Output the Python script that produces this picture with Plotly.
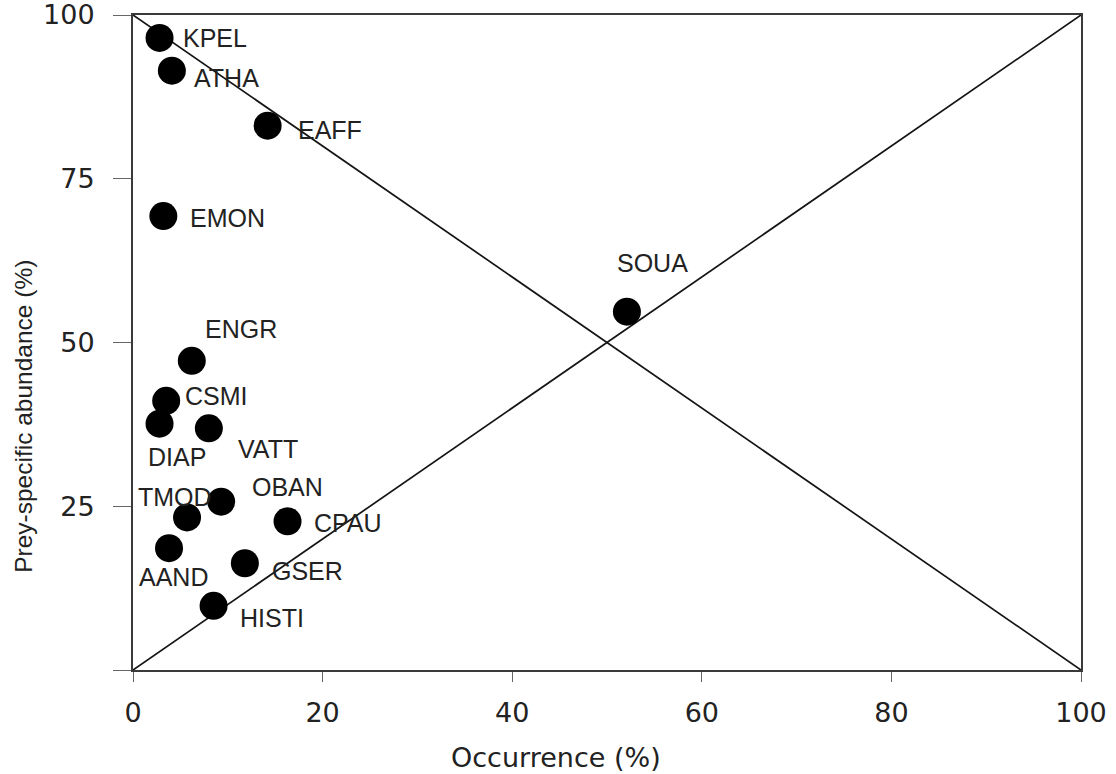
import plotly.graph_objects as go

# Prey taxa codes, frequency of occurrence (%) and prey-specific abundance (%)
taxa = ["KPEL", "ATHA", "EAFF", "EMON", "SOUA", "ENGR", "CSMI", "DIAP",
        "VATT", "OBAN", "TMOD", "CPAU", "AAND", "GSER", "HISTI"]
occurrence = [2.8, 4.1, 14.2, 3.2, 52.1, 6.2, 3.5, 2.8,
              8.0, 9.3, 5.7, 16.3, 3.8, 11.8, 8.5]
abundance = [96.5, 91.5, 83.1, 69.3, 54.7, 47.2, 41.1, 37.6,
             36.9, 25.7, 23.3, 22.7, 18.6, 16.3, 9.8]

x_ticks = [0, 20, 40, 60, 80, 100]
y_ticks = [0, 25, 50, 75, 100]
y_tick_text = ["", "25", "50", "75", "100"]

# Label placement relative to each point: (xshift px, yshift px, xanchor)
label_offsets = {
    "KPEL": (22, 0, "left"), "ATHA": (21, -7, "left"), "EAFF": (29, -4, "left"),
    "EMON": (26, -2, "left"), "SOUA": (26, 49, "center"), "ENGR": (12, 32, "left"),
    "CSMI": (18, 5, "left"), "DIAP": (-13, -33, "left"), "VATT": (28, -21, "left"),
    "OBAN": (30, 15, "left"), "TMOD": (-50, 20, "left"), "CPAU": (25, -2, "left"),
    "AAND": (-31, -29, "left"), "GSER": (26, -8, "left"), "HISTI": (25, -12, "left"),
}

fig = go.Figure()

# Reference diagonals of the Amundsen diagram
fig.add_trace(go.Scatter(x=[0, 100], y=[100, 0], mode="lines",
                         line=dict(color="#141414", width=1.7),
                         hoverinfo="skip", showlegend=False))
fig.add_trace(go.Scatter(x=[0, 100], y=[0, 100], mode="lines",
                         line=dict(color="#141414", width=1.7),
                         hoverinfo="skip", showlegend=False))

fig.add_trace(go.Scatter(x=occurrence, y=abundance, mode="markers",
                         marker=dict(color="black", size=28),
                         text=taxa, showlegend=False, cliponaxis=False))

label_font = dict(family="Liberation Sans, Arial, sans-serif", size=25, color="#222222")
for name, xv, yv in zip(taxa, occurrence, abundance):
    dx, dy, anchor = label_offsets[name]
    fig.add_annotation(x=xv, y=yv, text=name, showarrow=False,
                       xshift=dx, yshift=dy, xanchor=anchor, yanchor="middle",
                       borderpad=0, font=label_font)

# Axis titles
fig.add_annotation(xref="paper", yref="paper", x=0.446, y=-0.133,
                   text="Occurrence (%)", showarrow=False,
                   xanchor="center", yanchor="middle", borderpad=0,
                   font=dict(family="DejaVu Sans, sans-serif", size=27, color="#222222"))
fig.add_annotation(xref="paper", yref="paper", x=-0.115, y=0.388,
                   text="Prey-specific abundance (%)", showarrow=False, textangle=-90,
                   xanchor="center", yanchor="middle",
                   font=dict(family="Liberation Sans, Arial, sans-serif", size=24.5, color="#222222"))

tick_font = dict(family="DejaVu Sans, sans-serif", size=27, color="#222222")
fig.update_layout(
    width=1116, height=774,
    margin=dict(l=133, r=35, t=15, b=104, autoexpand=False),
    paper_bgcolor="white", plot_bgcolor="white",
    xaxis=dict(range=[0, 100], tickvals=x_ticks, ticks="outside", ticklen=10,
               tickwidth=1.2, tickcolor="#666666", showline=True, mirror=True,
               linecolor="#3a3a3a", linewidth=2, showgrid=False, zeroline=False,
               tickfont=tick_font, ticklabelstandoff=8, ticklabeloverflow="allow",
               automargin=False),
    yaxis=dict(range=[0, 100], tickvals=y_ticks, ticktext=y_tick_text,
               ticks="outside", ticklen=18, tickwidth=1.2, tickcolor="#666666",
               showline=True, mirror=True, linecolor="#3a3a3a", linewidth=2,
               showgrid=False, zeroline=False, tickfont=tick_font,
               ticklabelstandoff=13, ticklabeloverflow="allow", automargin=False),
)

fig.write_html("out.html")
